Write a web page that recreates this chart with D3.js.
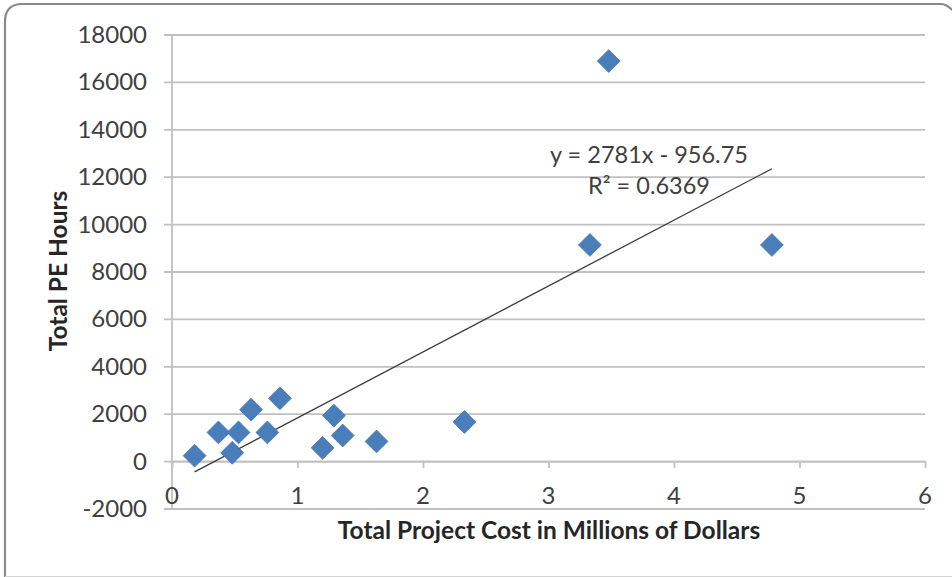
<!DOCTYPE html>
<html>
<head>
<meta charset="utf-8">
<script src="https://cdn.jsdelivr.net/npm/d3@7"></script>
<style>
  html, body { margin: 0; padding: 0; background: #fff; }
  svg { display: block; }
  text { font-family: Lato, "Open Sans", "Liberation Sans", sans-serif; }
</style>
</head>
<body>
<svg id="chart" width="952" height="577"></svg>
<script>
// Project cost (millions of dollars) vs. total PE hours
const projectCost = [0.18, 0.37, 0.48, 0.53, 0.63, 0.76, 0.86, 1.20, 1.29, 1.36, 1.63, 2.33, 3.33, 3.48, 4.78];
const peHours     = [230, 1210, 350, 1210, 2170, 1210, 2650, 560, 1920, 1080, 830, 1650, 9120, 16880, 9120];

// Linear trendline as printed on the chart
const slope = 2781;
const intercept = -956.75;
const rSquared = "0.6369";

const xTicks = [0, 1, 2, 3, 4, 5, 6];
const yTicks = [-2000, 0, 2000, 4000, 6000, 8000, 10000, 12000, 14000, 16000, 18000];

const xTitle = "Total Project Cost in Millions of Dollars";
const yTitle = "Total PE Hours";

const svg = d3.select("#chart");
const W = 952, H = 577;

const x = d3.scaleLinear().domain([0, 6]).range([172, 925]);
const y = d3.scaleLinear().domain([-2000, 18000]).range([508.5, 34.5]);

const gridColor = "#c0c0c0";
const textColor = "#404040";
const fmt = d3.formatLocale({ decimal: ".", thousands: "", grouping: [3], currency: ["", ""], minus: "-" }).format("d");

// Outer chart frame
svg.append("path")
  .attr("d", `M5,${H} L5,22 Q5,4 22,4 L940,4 Q947,4 952,10`)
  .attr("fill", "none")
  .attr("stroke", "#8a8a8a")
  .attr("stroke-width", 2.2);
svg.append("line")
  .attr("x1", 5).attr("x2", W).attr("y1", 576.5).attr("y2", 576.5)
  .attr("stroke", "#d4d4d4").attr("stroke-width", 1);

// Horizontal gridlines, extended left past the axis as outward tick marks
const yAxis = d3.axisLeft(y)
  .tickValues(yTicks)
  .tickSize(x(6) - x(0) + 8)
  .tickSizeOuter(0)
  .tickFormat("");

const gy = svg.append("g")
  .attr("transform", `translate(${x(6)},0)`)
  .call(yAxis);
gy.select(".domain").remove();
gy.selectAll(".tick line")
  .attr("stroke", gridColor)
  .attr("stroke-width", 1.8);

// Value-axis labels, right-aligned left of the axis
svg.append("g").selectAll("text")
  .data(yTicks)
  .join("text")
  .attr("x", 147)
  .attr("y", d => y(d))
  .attr("dy", "0.35em")
  .attr("text-anchor", "end")
  .attr("font-size", 24)
  .attr("fill", textColor)
  .text(d => fmt(d));

// Vertical axis line at x = 0
svg.append("line")
  .attr("x1", x(0)).attr("x2", x(0))
  .attr("y1", y(18000)).attr("y2", y(-2000))
  .attr("stroke", gridColor).attr("stroke-width", 1.8);

// Horizontal axis crossing at y = 0, ticks pointing down
const xAxis = d3.axisBottom(x)
  .tickValues(xTicks)
  .tickSize(7)
  .tickSizeOuter(0)
  .tickFormat("");
const gx = svg.append("g")
  .attr("transform", `translate(0,${y(0)})`)
  .call(xAxis);
gx.select(".domain").attr("stroke", gridColor).attr("stroke-width", 1.8);
gx.selectAll(".tick line").attr("stroke", gridColor).attr("stroke-width", 1.8);

// Category labels sit low, between the zero line and -2000
svg.append("g").selectAll("text")
  .data(xTicks)
  .join("text")
  .attr("x", d => x(d))
  .attr("y", y(-2000) - 13)
  .attr("dy", "0.35em")
  .attr("text-anchor", "middle")
  .attr("font-size", 24)
  .attr("fill", textColor)
  .text(d => d);

// Trendline across the data range
const [xmin, xmax] = d3.extent(projectCost);
svg.append("line")
  .attr("x1", x(xmin)).attr("y1", y(slope * xmin + intercept))
  .attr("x2", x(xmax)).attr("y2", y(slope * xmax + intercept))
  .attr("stroke", "#3a3a3a")
  .attr("stroke-width", 1.3);

// Data points as diamonds
const pts = projectCost.map((c, i) => ({ c, h: peHours[i] }));
const diamond = d3.symbol().type(d3.symbolSquare).size(260);
svg.append("g").selectAll("path")
  .data(pts)
  .join("path")
  .attr("d", diamond)
  .attr("transform", d => `translate(${x(d.c)},${y(d.h)}) rotate(45)`)
  .attr("fill", "#4a7ebb")
  .attr("stroke", "#4577b4")
  .attr("stroke-width", 0.8);

// Trendline equation and R²
const eq = svg.append("g").attr("fill", textColor).attr("font-size", 23.5).attr("text-anchor", "middle");
eq.append("text")
  .attr("x", 649).attr("y", 163)
  .text(`y = ${slope}x - ${Math.abs(intercept)}`);
eq.append("text")
  .attr("x", 649).attr("y", 194)
  .text(`R² = ${rSquared}`);

// Axis titles
svg.append("text")
  .attr("x", 549).attr("y", 539)
  .attr("text-anchor", "middle")
  .attr("font-size", 24.5)
  .attr("font-weight", "bold")
  .attr("fill", "#262626")
  .text(xTitle);

svg.append("text")
  .attr("transform", `translate(67,271) rotate(-90)`)
  .attr("text-anchor", "middle")
  .attr("font-size", 24.5)
  .attr("font-weight", "bold")
  .attr("fill", "#262626")
  .text(yTitle);
</script>
</body>
</html>
